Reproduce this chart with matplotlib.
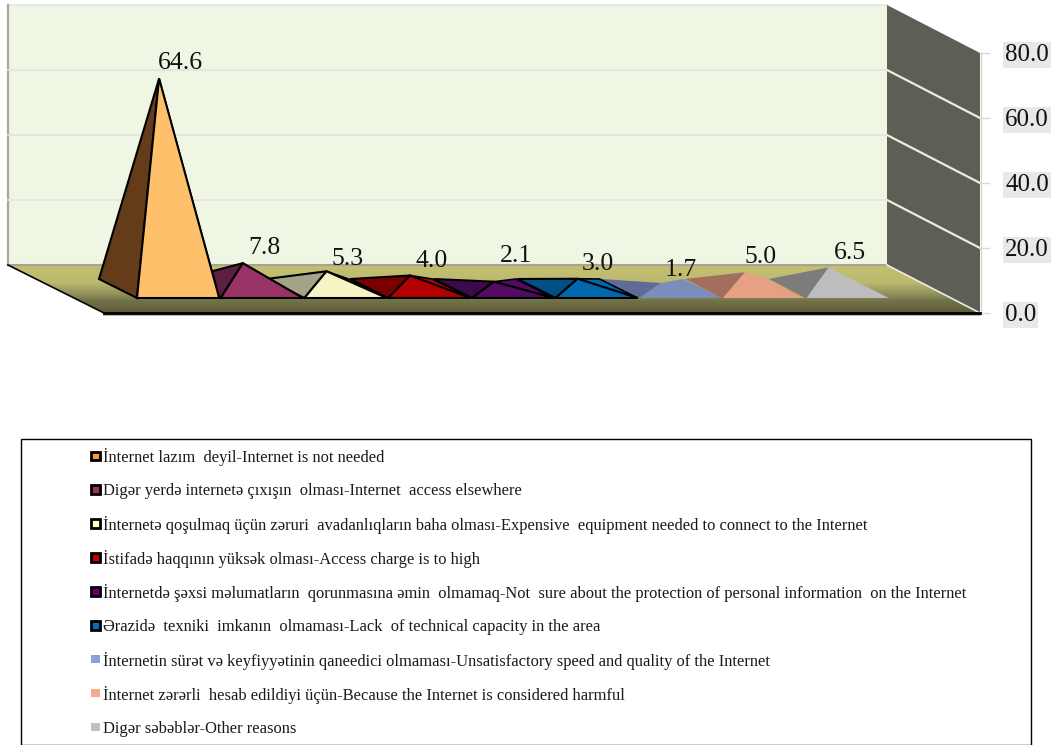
import matplotlib

matplotlib.use("Agg")
import matplotlib.pyplot as plt
import numpy as np
from matplotlib.colors import LinearSegmentedColormap
from matplotlib.patches import Polygon, Rectangle

W, H = 1054, 745

values = [64.6, 7.8, 5.3, 4.0, 2.1, 3.0, 1.7, 5.0, 6.5]
value_labels = ["64.6", "7.8", "5.3", "4.0", "2.1", "3.0", "1.7", "5.0", "6.5"]
y_ticks = [0, 20, 40, 60, 80]
y_tick_labels = ["0.0", "20.0", "40.0", "60.0", "80.0"]
legend_labels = [
    "İnternet lazım  deyil-Internet is not needed",
    "Digər yerdə internetə çıxışın  olması-Internet  access elsewhere",
    "İnternetə qoşulmaq üçün zəruri  avadanlıqların baha olması-Expensive  equipment needed to connect to the Internet",
    "İstifadə haqqının yüksək olması-Access charge is to high",
    "İnternetdə şəxsi məlumatların  qorunmasına əmin  olmamaq-Not  sure about the protection of personal information  on the Internet",
    "Ərazidə  texniki  imkanın  olmaması-Lack  of technical capacity in the area",
    "İnternetin sürət və keyfiyyətinin qaneedici olmaması-Unsatisfactory speed and quality of the Internet",
    "İnternet zərərli  hesab edildiyi üçün-Because the Internet is considered harmful",
    "Digər səbəblər-Other reasons",
]
front_colors = ["#FFC06C", "#993366", "#F6F4C4", "#B30000", "#520A62", "#0068AE", "#7B8DBD", "#E8A085", "#BDBDBD"]
side_colors = ["#643C1A", "#5C1F40", "#A3A388", "#7A0000", "#3C0A4A", "#004F85", "#5F6D96", "#A36E5B", "#7C7C7C"]
legend_colors = ["#F79646", "#993366", "#FFFFCC", "#C00000", "#660066", "#0070C0", "#8EA0D8", "#F4A988", "#C0C0C0"]
outlined = [True, True, True, True, True, True, False, False, False]

# chart geometry in pixels
FLOOR_Y = 313
FRONT_LEFT, FRONT_RIGHT = 104, 980
WALL_LEFT, WALL_RIGHT = 8, 887
DEPTH_Y = 48
PX_PER_UNIT = 3.25
SLOT_X0, SLOT_W, SLOT_GAP = 137, 83.7, 1.5
BASE_Y = 298
BASE_DX, BASE_DY = 38, 19
SERIF = "Liberation Serif"


def back_y(value):
    return FLOOR_Y - DEPTH_Y - value * PX_PER_UNIT


def front_y(value):
    return FLOOR_Y - value * PX_PER_UNIT


fig = plt.figure(figsize=(W / 100, H / 100), dpi=100)
ax = fig.add_axes([0, 0, 1, 1])

# back wall
ax.add_patch(
    Rectangle(
        (WALL_LEFT, back_y(80)), WALL_RIGHT - WALL_LEFT, back_y(0) - back_y(80), fc="#EFF6E4", ec="none", zorder=1
    )
)
ax.plot([WALL_LEFT, WALL_RIGHT], [back_y(80)] * 2, color="#E4E4E0", lw=1.2, zorder=2)
ax.plot([WALL_LEFT, WALL_LEFT], [back_y(80), back_y(0)], color="#A8A8A0", lw=1.6, zorder=2)
for tick in y_ticks[1:-1]:
    ax.plot([WALL_LEFT, WALL_RIGHT], [back_y(tick)] * 2, color="#E2E4DE", lw=1.2, zorder=2)

# right wall
ax.add_patch(
    Polygon(
        [(WALL_RIGHT, back_y(80)), (FRONT_RIGHT, front_y(80)), (FRONT_RIGHT, front_y(0)), (WALL_RIGHT, back_y(0))],
        fc="#5E5F54",
        ec="none",
        zorder=2,
    )
)
for tick in y_ticks[1:-1]:
    ax.plot([WALL_RIGHT, FRONT_RIGHT], [back_y(tick), front_y(tick)], color="#ECECE6", lw=1.6, zorder=3)
ax.plot([FRONT_RIGHT + 1] * 2, [front_y(80), front_y(0)], color="#D8D8D8", lw=1.0, zorder=3)

# floor with vertical gradient
floor_pts = [(WALL_LEFT, back_y(0)), (WALL_RIGHT, back_y(0)), (FRONT_RIGHT, FLOOR_Y), (FRONT_LEFT, FLOOR_Y)]
floor_cmap = LinearSegmentedColormap.from_list(
    "floor", [(0, "#C3C073"), (0.35, "#BDBA70"), (0.62, "#8F8E58"), (0.75, "#72724A"), (1, "#5C5C3A")]
)
grad = ax.imshow(
    np.linspace(0, 1, 64).reshape(-1, 1),
    extent=(WALL_LEFT, FRONT_RIGHT, FLOOR_Y, back_y(0)),
    cmap=floor_cmap,
    aspect="auto",
    zorder=3,
)
grad.set_clip_path(Polygon(floor_pts, transform=ax.transData))
ax.plot([WALL_LEFT, WALL_RIGHT], [back_y(0)] * 2, color="#A5A595", lw=1.5, zorder=4)
ax.plot([WALL_LEFT, FRONT_LEFT], [back_y(0), FLOOR_Y], color="black", lw=1.2, zorder=4)
ax.plot([WALL_RIGHT, FRONT_RIGHT], [back_y(0), FLOOR_Y], color="#ECECE6", lw=1.2, zorder=4)
ax.plot([FRONT_LEFT, FRONT_RIGHT], [FLOOR_Y + 1.5] * 2, color="#A8A8A8", lw=1.2, zorder=4)
ax.plot([FRONT_LEFT, FRONT_RIGHT], [FLOOR_Y, FLOOR_Y], color="black", lw=2.0, zorder=5)

# pyramids, right to left so the nearer front faces overlap their neighbour
for i in range(len(values) - 1, -1, -1):
    left = SLOT_X0 + i * SLOT_W
    right = left + SLOT_W - SLOT_GAP
    apex = ((left + right) / 2 - BASE_DX / 2, BASE_Y - BASE_DY / 2 - values[i] * PX_PER_UNIT)
    edge = "black" if outlined[i] else "none"
    z = 6 + (len(values) - i) * 0.1
    ax.add_patch(
        Polygon(
            [(right - BASE_DX, BASE_Y - BASE_DY), (right, BASE_Y), apex],
            fc=front_colors[i],
            ec=edge,
            lw=1.2,
            zorder=z - 0.01,
        )
    )
    ax.add_patch(
        Polygon(
            [(left - BASE_DX, BASE_Y - BASE_DY), (left, BASE_Y), apex],
            fc=side_colors[i],
            ec=edge,
            lw=1.5,
            zorder=z,
        )
    )
    ax.add_patch(
        Polygon([(left, BASE_Y), (right, BASE_Y), apex], fc=front_colors[i], ec=edge, lw=1.5, zorder=z + 0.05)
    )

# value labels sit over the slot centre, a little above the apex
label_dy = [16, 15, 12, 14.5, 26, 15, 13, 15, 14]
label_dx = [2, 1.5, 1, 2, 2, 1, 0, -4, 1]
for i, text in enumerate(value_labels):
    apex_y = BASE_Y - BASE_DY / 2 - values[i] * PX_PER_UNIT
    ax.text(
        SLOT_X0 + (i + 0.5) * SLOT_W + label_dx[i], apex_y - label_dy[i], text,
        family=SERIF, fontsize=18.5, ha="center", va="center", color="#111111", zorder=9,
    )

# value axis
for tick, text in zip(y_ticks, y_tick_labels):
    ax.plot([FRONT_RIGHT, FRONT_RIGHT + 9], [front_y(tick)] * 2, color="#D8D8D8", lw=1.0, zorder=3)
    ax.text(
        1005, front_y(tick) + 2, text,
        family=SERIF, fontsize=18, ha="left", va="center", color="#111111",
        bbox=dict(fc="#E8E8E8", ec="none", pad=1.5), zorder=9,
    )

# legend box
ax.add_patch(Rectangle((20.5, 438.5), 1010, 306, fc="white", ec="black", lw=1.0, zorder=1))
legend_y0, legend_step = 457.5, 33.9
for i, text in enumerate(legend_labels):
    y = legend_y0 + i * legend_step
    if outlined[i]:
        ax.add_patch(Rectangle((91, y - 6), 8.5, 8.5, fc=legend_colors[i], ec="black", lw=2.0, zorder=2))
    else:
        ax.add_patch(Rectangle((91, y - 6), 8.5, 8.5, fc=legend_colors[i], ec="none", zorder=2))
    ax.text(103, y, text, family=SERIF, fontsize=11.9, ha="left", va="center", color="#1A1A1A", zorder=2)

ax.set_xlim(0, W)
ax.set_ylim(H, 0)
ax.axis("off")
fig.savefig("out.png", dpi=100, facecolor="white")
